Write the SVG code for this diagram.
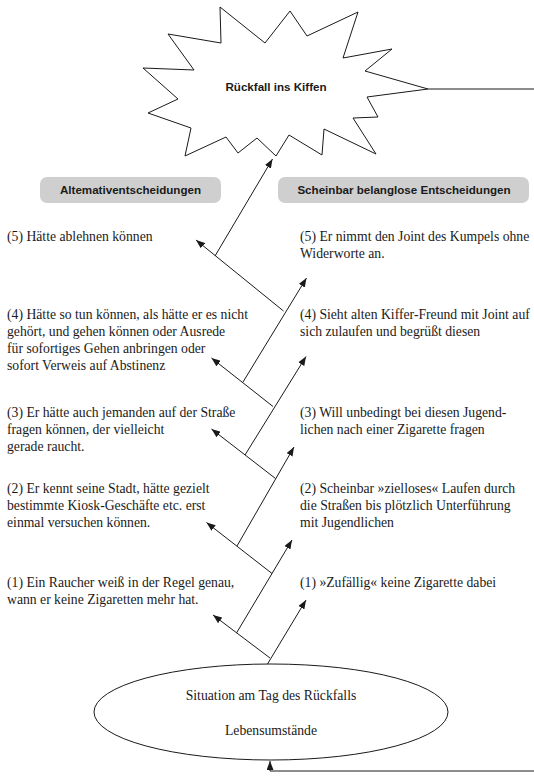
<svg xmlns="http://www.w3.org/2000/svg" width="534" height="776" viewBox="0 0 534 776">
<defs>
<marker id="ah" markerUnits="userSpaceOnUse" markerWidth="9" markerHeight="7" refX="9" refY="3.5" orient="auto">
<path d="M0,0 L9,3.5 L0,7 z" fill="#1a1a1a"/>
</marker>
<style>
.ln{stroke:#1a1a1a;stroke-width:1;fill:none}
.ar{stroke:#1a1a1a;stroke-width:1;fill:none;marker-end:url(#ah)}
.tx{font-family:"Liberation Serif","Times New Roman",serif;font-size:13.7px;fill:#1a1a1a}
.hd{font-family:"Liberation Sans",Arial,sans-serif;font-size:11.6px;font-weight:bold;fill:#1a1a1a;text-anchor:middle}
.hb{fill:#cfcfcf;stroke:none}
</style>
</defs>
<rect width="534" height="776" fill="#ffffff"/>

<g id="star">
<polygon class="ln" fill="#ffffff" points="220,7 265,43 290,11 307,36 358,12 343,58 392,49 365,71 428,89 367,97 378,117 353,118 376,154 324,129 322,155 289,135 276,156 257,138 238,153 226,137 185,156 191,128 148,113 178,99 143,68 194,70 168,34 221,43"/>
<text class="hd" x="276" y="91" font-size="11.5">Rückfall ins Kiffen</text>
</g>

<g id="header-left">
<rect class="hb" x="40" y="177" width="181" height="26" rx="7"/>
<text class="hd" x="130.5" y="194">Altemativentscheidungen</text>
</g>
<g id="header-right">
<rect class="hb" x="278" y="177" width="251" height="26" rx="7"/>
<text class="hd" x="404" y="194">Scheinbar belanglose Entscheidungen</text>
</g>

<g id="left-5"><text class="tx" x="7" y="241">(5) Hätte ablehnen können</text></g>
<g id="left-4"><text class="tx" x="7" y="319">(4) Hätte so tun können, als hätte er es nicht</text>
<text class="tx" x="7" y="336">gehört, und gehen können oder Ausrede</text>
<text class="tx" x="7" y="353">für sofortiges Gehen anbringen oder</text>
<text class="tx" x="7" y="370">sofort Verweis auf Abstinenz</text></g>
<g id="left-3"><text class="tx" x="7" y="417">(3) Er hätte auch jemanden auf der Straße</text>
<text class="tx" x="7" y="434">fragen können, der vielleicht</text>
<text class="tx" x="7" y="451">gerade raucht.</text></g>
<g id="left-2"><text class="tx" x="7" y="493">(2) Er kennt seine Stadt, hätte gezielt</text>
<text class="tx" x="7" y="510">bestimmte Kiosk-Geschäfte etc. erst</text>
<text class="tx" x="7" y="527">einmal versuchen können.</text></g>
<g id="left-1"><text class="tx" x="7" y="587">(1) Ein Raucher weiß in der Regel genau,</text>
<text class="tx" x="7" y="604">wann er keine Zigaretten mehr hat.</text></g>

<g id="right-5"><text class="tx" x="300" y="241">(5) Er nimmt den Joint des Kumpels ohne</text>
<text class="tx" x="300" y="258">Widerworte an.</text></g>
<g id="right-4"><text class="tx" x="300" y="319">(4) Sieht alten Kiffer-Freund mit Joint auf</text>
<text class="tx" x="300" y="336">sich zulaufen und begrüßt diesen</text></g>
<g id="right-3"><text class="tx" x="300" y="417">(3) Will unbedingt bei diesen Jugend-</text>
<text class="tx" x="300" y="434">lichen nach einer Zigarette fragen</text></g>
<g id="right-2"><text class="tx" x="300" y="493">(2) Scheinbar »zielloses« Laufen durch</text>
<text class="tx" x="300" y="510">die Straßen bis plötzlich Unterführung</text>
<text class="tx" x="300" y="527">mit Jugendlichen</text></g>
<g id="right-1"><text class="tx" x="300" y="587">(1) »Zufällig« keine Zigarette dabei</text></g>

<g id="situation">
<ellipse class="ln" cx="271" cy="712" rx="177" ry="48"/>
<text class="tx" x="271" y="700" text-anchor="middle">Situation am Tag des Rückfalls</text>
<text class="tx" x="271" y="735" text-anchor="middle">Lebensumstände</text>
</g>

<g id="connectors">
<line class="ln" x1="428" y1="89" x2="534" y2="89"/>
<polyline class="ar" points="534,771 270,771 270,761"/>
<line class="ar" x1="267.5" y1="664" x2="306" y2="600"/>
<line class="ar" x1="270" y1="658" x2="213" y2="615"/>
<line class="ar" x1="236.5" y1="633" x2="292" y2="540"/>
<line class="ar" x1="272" y1="573.5" x2="206.5" y2="522.5"/>
<line class="ar" x1="237" y1="546" x2="294" y2="447"/>
<line class="ar" x1="275.5" y1="478.5" x2="211.5" y2="429"/>
<line class="ar" x1="245" y1="455" x2="306" y2="356.5"/>
<line class="ar" x1="273" y1="406.5" x2="211.5" y2="358"/>
<line class="ar" x1="243" y1="382" x2="306.5" y2="278"/>
<line class="ar" x1="283.5" y1="311" x2="196" y2="240"/>
<line class="ar" x1="215" y1="256" x2="272.5" y2="159"/>
</g>
</svg>
